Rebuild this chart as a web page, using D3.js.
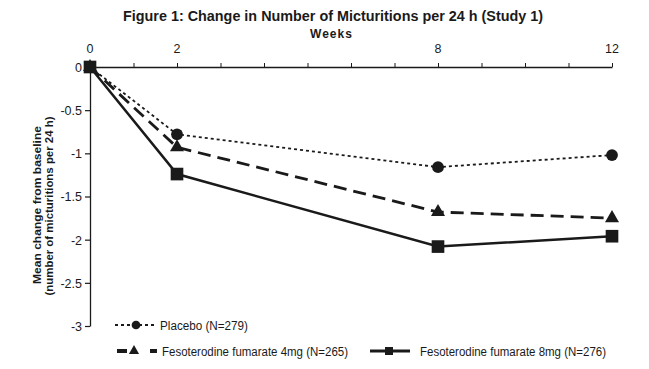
<!DOCTYPE html>
<html><head><meta charset="utf-8">
<script src="https://cdn.jsdelivr.net/npm/d3@7"></script>
<style>body{margin:0;background:#fff}svg{display:block}</style>
</head><body>
<svg id="c" width="649" height="369"></svg>
<script>
const weeks = [0, 2, 8, 12];
const placebo = [0, -0.78, -1.16, -1.02];
const feso4 = [0, -0.93, -1.68, -1.75];
const feso8 = [0, -1.24, -2.08, -1.96];
const xTicks = [0,1,2,3,4,5,6,7,8,9,10,11,12];
const xLabels = [0, 2, 8, 12];
const yTicks = [0, -0.5, -1, -1.5, -2, -2.5, -3];
const seriesNames = ["Placebo (N=279)", "Fesoterodine fumarate 4mg (N=265)", "Fesoterodine fumarate 8mg (N=276)"];

const svg = d3.select("#c");
const F = "'Liberation Sans',Arial,sans-serif";
const ink = "#1a1a1a";
const x = d3.scaleLinear().domain([0,12]).range([90,612]);
const y = d3.scaleLinear().domain([0,-3]).range([67,326]);

svg.append("text").attr("x",333).attr("y",21).attr("text-anchor","middle")
  .attr("font-family",F).attr("font-weight","bold").attr("font-size",14.5).attr("fill",ink)
  .attr("textLength",420).attr("lengthAdjust","spacingAndGlyphs")
  .text("Figure 1: Change in Number of Micturitions per 24 h (Study 1)");
svg.append("text").attr("x",331).attr("y",38).attr("text-anchor","middle")
  .attr("font-family",F).attr("font-weight","bold").attr("font-size",12).attr("fill",ink)
  .attr("textLength",42).attr("lengthAdjust","spacing")
  .text("Weeks");

// x axis
const xa = svg.append("g").attr("transform",`translate(0,${y(0)})`)
  .call(d3.axisTop(x).tickValues(xTicks).tickSize(4).tickSizeOuter(0).tickFormat(""));
xa.select(".domain").attr("stroke",ink).attr("stroke-width",1.3);
xa.selectAll(".tick line").attr("stroke",ink).attr("stroke-width",1);
svg.append("g").selectAll("text").data(xLabels).join("text")
  .attr("x",d=>x(d)).attr("y",53).attr("text-anchor","middle")
  .attr("font-family",F).attr("font-size",12.5).attr("fill",ink).text(d=>d);

// y axis
const ya = svg.append("g").attr("transform",`translate(${x(0)},0)`)
  .call(d3.axisLeft(y).tickValues(yTicks).tickSize(5).tickSizeOuter(0).tickFormat(d=>String(d).replace("−","-")));
ya.select(".domain").attr("stroke",ink).attr("stroke-width",1.3);
ya.selectAll(".tick line").attr("stroke",ink).attr("stroke-width",1.2);
ya.selectAll(".tick text").attr("font-family",F).attr("font-size",12.5).attr("fill",ink).attr("x",-8).attr("dy","0.35em");

svg.append("text").attr("transform","translate(41,205) rotate(-90)")
  .attr("text-anchor","middle").attr("font-family",F).attr("font-weight","bold").attr("font-size",11.5).attr("fill",ink)
  .attr("textLength",158).attr("lengthAdjust","spacingAndGlyphs")
  .text("Mean change from baseline");
svg.append("text").attr("transform","translate(53,206) rotate(-90)")
  .attr("text-anchor","middle").attr("font-family",F).attr("font-weight","bold").attr("font-size",11.5).attr("fill",ink)
  .attr("textLength",179).attr("lengthAdjust","spacingAndGlyphs")
  .text("(number of micturitions per 24 h)");

const line = d3.line().x((d,i)=>x(weeks[i])).y(d=>y(d));
const styles = [
  {data:placebo, dash:"3,3", w:1.8, m:d3.symbolCircle, size:110, lsize:60},
  {data:feso4, dash:"13,7", w:2.8, m:d3.symbolTriangle, size:85, lsize:45},
  {data:feso8, dash:null, w:2.5, m:d3.symbolSquare, size:160, lsize:64}
];

styles.forEach(s=>{
  svg.append("path").datum(s.data).attr("d",line).attr("fill","none")
    .attr("stroke",ink).attr("stroke-width",s.w).attr("stroke-dasharray",s.dash);
});
styles.forEach(s=>{
  svg.append("g").selectAll("path").data(s.data).join("path")
    .attr("transform",(d,i)=>`translate(${x(weeks[i])},${y(d)})`)
    .attr("d",d3.symbol().type(s.m).size(s.size)()).attr("fill",ink);
});

// legend
const leg = [
  {segs:[[115,155]], ly:325, mx:136, tx:160, tl:88, dash:"3,3"},
  {segs:[[117,127],[150,157]], ly:351, mx:134, tx:162, tl:186, dash:null},
  {segs:[[370,410]], ly:351, mx:389, tx:420, tl:186, dash:null}
];
styles.forEach((s,i)=>{
  const L = leg[i];
  L.segs.forEach(sg=>{
    svg.append("line").attr("x1",sg[0]).attr("x2",sg[1]).attr("y1",L.ly).attr("y2",L.ly)
      .attr("stroke",ink).attr("stroke-width",i===1?4:(i===0?2:3)).attr("stroke-dasharray",L.dash);
  });
  svg.append("path").attr("transform",`translate(${L.mx},${L.ly})`)
    .attr("d",d3.symbol().type(s.m).size(s.lsize)()).attr("fill",ink);
  svg.append("text").attr("x",L.tx).attr("y",L.ly+4.5).attr("font-family",F).attr("font-size",12.5)
    .attr("fill",ink).attr("textLength",L.tl).attr("lengthAdjust","spacingAndGlyphs").text(seriesNames[i]);
});
</script>
</body></html>
